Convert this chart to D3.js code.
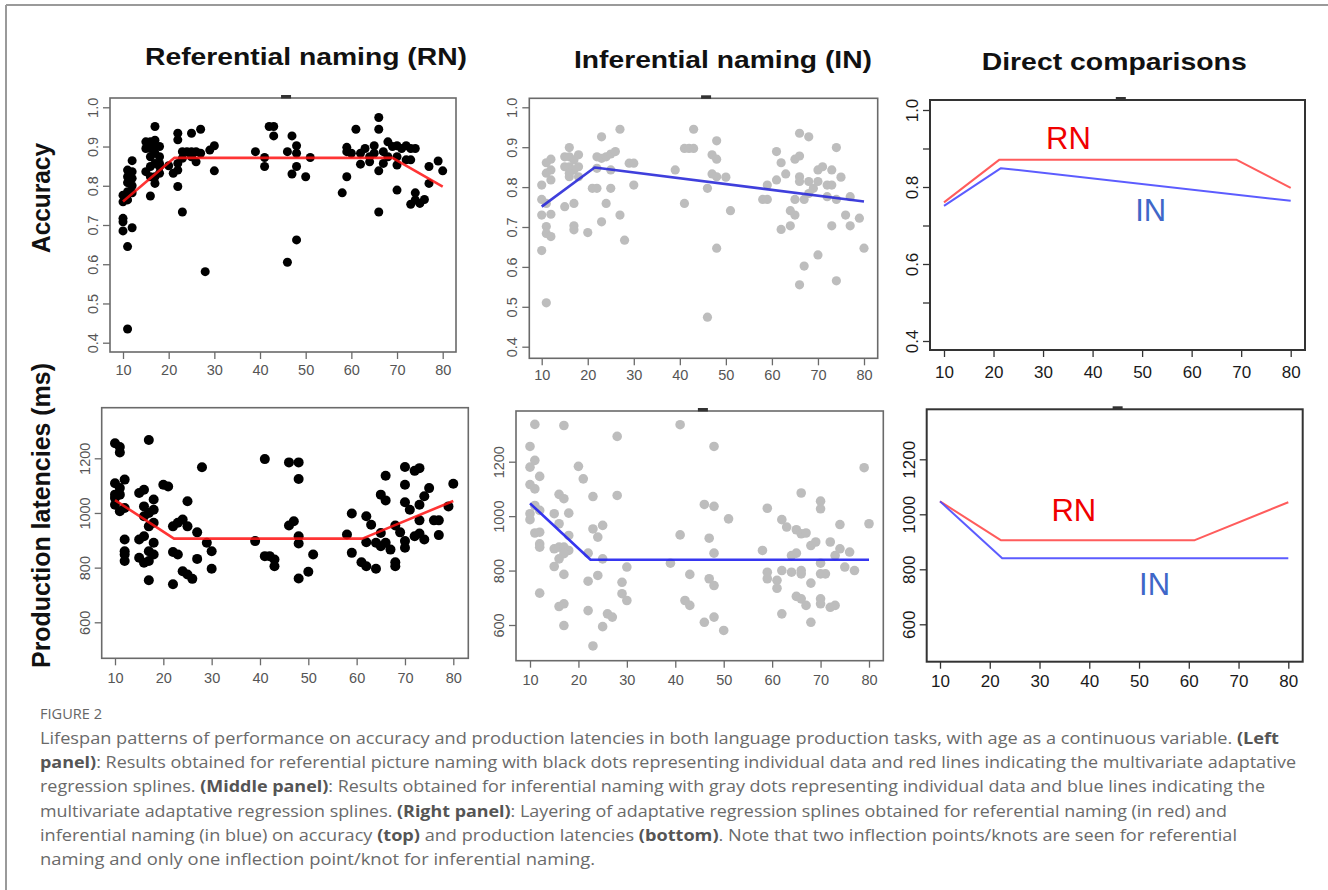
<!DOCTYPE html>
<html><head><meta charset="utf-8">
<script src="https://cdn.jsdelivr.net/npm/d3@7"></script>
<style>body{margin:0;background:#fff;overflow:hidden} svg{display:block}</style>
</head><body><svg id="c" width="1328" height="890"></svg>
<script>
// ---------------- data ----------------
const ageTicks = [10, 20, 30, 40, 50, 60, 70, 80];
const accTicks = [0.4, 0.5, 0.6, 0.7, 0.8, 0.9, 1.0];
const accTickLabelsCmp = [0.4, 0.6, 0.8, 1.0];
const latTicks = [600, 800, 1000, 1200];

const columnTitles = ["Referential naming (RN)", "Inferential naming (IN)", "Direct comparisons"];
const rowTitles = ["Accuracy", "Production latencies (ms)"];
const seriesNames = ["RN", "IN"];

const rnAccPoints = [[10,0.776],[10,0.759],[10,0.717],[10,0.708],[10,0.685],[11,0.645],[11,0.435],[12,0.693],[11,0.84],[11,0.823],[11,0.808],[12,0.864],[12,0.836],[12,0.819],[12,0.80],[11,0.785],[12,0.782],[11,0.764],
[16,0.912],[16,0.895],[15,0.895],[17,0.951],[16,0.774],[17,0.806],[15,0.836],[16,0.849],[16,0.874],[17,0.916],[17,0.883],[17,0.857],[18,0.9],[18,0.874],[18,0.849],[18,0.832],[17,0.823],[16,0.823],[15,0.912],[18,0.857],[17,0.9],
[20,0.851],[22,0.934],[22,0.917],[22,0.857],[22,0.84],[21,0.832],[22,0.798],[23,0.733],[23,0.887],[23,0.87],[24,0.887],[25,0.934],[25,0.887],[25,0.874],[26,0.861],[27,0.944],[27,0.883],[28,0.581],[29,0.891],[30,0.902],[30,0.838],[26,0.887],
[39,0.887],[41,0.872],[41,0.849],[42,0.951],[43,0.951],[43,0.927],[46,0.887],[46,0.605],[47,0.927],[47,0.83],[48,0.902],[48,0.883],[48,0.849],[48,0.662],[50,0.823],[51,0.872],
[58,0.782],[59,0.823],[59,0.898],[59,0.887],[61,0.944],[62,0.883],[62,0.855],[63,0.895],[64,0.874],[64,0.861],[65,0.902],[65,0.883],[66,0.974],[66,0.944],[66,0.838],[66,0.733],[67,0.857],[67,0.887],[68,0.912],[68,0.874],[69,0.9],[70,0.902],[70,0.853],[70,0.789],[70,0.874],[71,0.895],[72,0.902],[72,0.866],[73,0.895],[73,0.753],[73,0.866],[74,0.895],[74,0.782],[74,0.764],[75,0.755],[76,0.765],[77,0.849],[77,0.806],[79,0.863],[80,0.838],[60,0.883]];

const inAccPoints = [[10,0.805],[10,0.769],[10,0.73],[10,0.641],[11,0.51],[11,0.861],[11,0.835],[11,0.759],[11,0.701],[11,0.684],[12,0.87],[12,0.843],[12,0.818],[12,0.732],[12,0.676],
[15,0.751],[15,0.876],[15,0.851],[16,0.899],[16,0.876],[16,0.851],[16,0.826],[17,0.759],[17,0.703],[17,0.693],[17,0.868],[17,0.843],[18,0.881],[18,0.851],[18,0.826],[16,0.835],
[20,0.686],[21,0.797],[22,0.797],[22,0.876],[22,0.847],[23,0.926],[23,0.713],[23,0.872],[24,0.759],[24,0.876],[25,0.797],[25,0.843],[25,0.883],[26,0.889],[27,0.945],[27,0.73],[28,0.667],[29,0.86],[30,0.86],[30,0.805],
[39,0.843],[41,0.759],[41,0.897],[42,0.897],[43,0.945],[43,0.897],[46,0.797],[47,0.881],[48,0.87],[48,0.916],[47,0.833],[48,0.826],[48,0.647],[46,0.474],[50,0.825],[51,0.741],
[58,0.769],[59,0.805],[59,0.769],[61,0.889],[61,0.818],[62,0.694],[62,0.861],[63,0.833],[64,0.703],[64,0.741],[65,0.73],[65,0.769],[65,0.87],[66,0.555],[66,0.935],[66,0.878],[66,0.826],[66,0.814],[67,0.602],[67,0.769],[68,0.926],[68,0.814],[68,0.784],[69,0.797],[70,0.63],[70,0.814],[70,0.843],[71,0.851],[72,0.805],[73,0.843],[73,0.805],[73,0.703],[74,0.565],[74,0.899],[74,0.769],[75,0.825],[76,0.73],[77,0.703],[77,0.776],[79,0.722],[80,0.647],[72,0.776]];

const rnLatPoints = [[10,1255],[11,1241],[11,1221],[10,1109],[10,1067],[10,1030],[11,1091],[11,1067],[11,1006],[12,1122],[12,1018],[12,903],[12,860],[12,824],[12,848],[10,1055],
[15,1073],[15,903],[15,836],[16,1085],[16,1024],[16,988],[16,915],[16,818],[17,1267],[17,951],[17,860],[17,824],[17,754],[17,1000],[18,1049],[18,1012],[18,964],[18,891],[18,848],
[20,1103],[21,1097],[22,739],[22,951],[22,857],[23,848],[23,964],[24,976],[24,787],[25,1043],[25,951],[25,775],[26,759],[27,929],[27,832],[28,1167],[29,891],[30,860],[30,796],
[39,897],[41,1197],[41,842],[42,842],[43,805],[43,830],[46,1185],[46,954],[47,970],[48,1185],[48,1124],[48,915],[48,888],[48,760],[50,785],[51,848],
[58,921],[59,998],[59,854],[61,820],[62,805],[62,988],[62,893],[63,957],[64,796],[64,891],[65,1067],[65,878],[65,927],[66,1136],[66,1046],[66,891],[67,866],[68,820],[68,805],[68,954],[69,929],[70,1168],[70,1103],[70,1039],[70,897],[70,873],[71,1012],[72,1154],[72,915],[73,1164],[73,1030],[73,973],[73,925],[74,1061],[74,903],[75,1091],[76,973],[77,973],[77,919],[79,1024],[80,1107]];

const inLatPoints = [[10,1256],[10,1180],[10,1116],[10,987],[10,1009],[11,1337],[11,1205],[11,1100],[11,1039],[11,938],[12,1146],[12,1021],[12,941],[12,898],[12,886],[12,717],
[15,1009],[15,880],[15,815],[16,1080],[16,972],[16,886],[16,843],[16,668],[17,1333],[17,1064],[17,886],[17,786],[17,678],[17,598],[18,1011],[18,929],[18,874],[17,862],
[20,1183],[21,1137],[22,864],[22,761],[22,653],[23,1072],[23,953],[23,523],[24,923],[24,782],[25,966],[25,843],[25,594],[26,641],[27,629],[28,1293],[28,1076],[29,757],[29,715],[30,813],[30,690],
[39,827],[41,1336],[41,931],[42,690],[43,672],[43,786],[46,1043],[46,610],[47,919],[47,770],[48,1256],[48,1036],[48,864],[48,745],[48,629],[50,580],[51,990],
[58,874],[59,1029],[59,794],[59,770],[61,764],[61,735],[62,800],[62,987],[62,641],[63,960],[64,855],[64,794],[65,950],[65,864],[65,705],[66,1085],[66,935],[66,800],[66,788],[66,696],[67,938],[67,672],[68,892],[68,754],[68,610],[69,905],[70,1055],[70,1027],[70,827],[70,788],[70,696],[70,678],[71,788],[72,905],[72,665],[73,672],[73,855],[74,969],[74,880],[75,813],[76,868],[77,800],[79,1178],[80,972]];

// MARS spline knots (age, value)
const rnAccSpline = [[10,0.760],[21.2,0.871],[69,0.871],[80,0.798]];
const inAccSpline = [[10,0.751],[21.5,0.849],[80,0.764]];
const rnLatSpline = [[10,1047],[22.2,906],[61.2,906],[80,1044]];
const inLatSpline = [[10,1047],[22.5,840],[80,840]];

const markerAge = 45.7;

const captionLabel = "FIGURE 2";
const captionLines = [
  [["Lifespan patterns of performance on accuracy and production latencies in both language production tasks, with age as a continuous variable. ",0],["(Left",1]],
  [["panel)",1],[": Results obtained for referential picture naming with black dots representing individual data and red lines indicating the multivariate adaptative",0]],
  [["regression splines. ",0],["(Middle panel)",1],[": Results obtained for inferential naming with gray dots representing individual data and blue lines indicating the",0]],
  [["multivariate adaptative regression splines. ",0],["(Right panel)",1],[": Layering of adaptative regression splines obtained for referential naming (in red) and",0]],
  [["inferential naming (in blue) on accuracy ",0],["(top)",1],[" and production latencies ",0],["(bottom)",1],[". Note that two inflection points/knots are seen for referential",0]],
  [["naming and only one inflection point/knot for inferential naming.",0]]
];

// ---------------- layout ----------------
const svg = d3.select("#c");
const FONT = "'Liberation Sans', Arial, Helvetica, sans-serif";

// outer figure border (top + left)
svg.append("line").attr("x1",6).attr("y1",5).attr("x2",1328).attr("y2",5).attr("stroke","#9a9a9a").attr("stroke-width",2);
svg.append("line").attr("x1",6).attr("y1",5).attr("x2",6).attr("y2",890).attr("stroke","#9a9a9a").attr("stroke-width",2);

const panels = [
  {id:"TL", frame:[110,98,456,352], xr:[123,442.7], yd:[1.0,0.4], yr:[107.3,342.7], yTicks:accTicks, yLabels:accTicks, fmt:d3.format(".1f"), xlab:375, cmp:false, marker:true},
  {id:"TM", frame:[529.3,98.3,877.7,358.3], xr:[541.7,864], yd:[1.0,0.4], yr:[107.3,346.7], yTicks:accTicks, yLabels:accTicks, fmt:d3.format(".1f"), xlab:380, cmp:false, marker:true},
  {id:"TR", frame:[930,100,1305,350], xr:[944,1290.7], yd:[1.0,0.4], yr:[110,341], yTicks:accTicks, yLabels:accTickLabelsCmp, fmt:d3.format(".1f"), xlab:378, cmp:true, marker:true},
  {id:"BL", frame:[101.7,407.7,468.3,658.3], xr:[115,453.3], yd:[1200,600], yr:[458.3,622.3], yTicks:latTicks, yLabels:latTicks, fmt:d3.format("d"), xlab:683, cmp:false, marker:false},
  {id:"BM", frame:[516,411,883.3,660.7], xr:[530,869], yd:[1200,600], yr:[461.7,625], yTicks:latTicks, yLabels:latTicks, fmt:d3.format("d"), xlab:685, cmp:false, marker:true},
  {id:"BR", frame:[926.7,409.3,1302.7,661.7], xr:[940,1288.3], yd:[1200,600], yr:[459.3,624.3], yTicks:latTicks, yLabels:latTicks, fmt:d3.format("d"), xlab:687, cmp:true, marker:true}
];

function setup(p){
  const g = svg.append("g").attr("class","panel-"+p.id);
  const x = d3.scaleLinear().domain([10,80]).range(p.xr);
  const y = d3.scaleLinear().domain(p.yd).range(p.yr);
  const [fx0,fy0,fx1,fy1] = p.frame;
  const frameCol = p.cmp ? "#333" : "#6a6a6a";
  const labCol = p.cmp ? "#1a1a1a" : "#555";
  const fs = p.cmp ? 17 : 14.5;
  const xa = d3.axisBottom(x).tickValues(ageTicks).tickSize(7).tickFormat(d3.format("d"));
  const gx = g.append("g").attr("transform",`translate(0,${fy1})`).call(xa);
  gx.select(".domain").remove();
  gx.selectAll(".tick line").attr("stroke",frameCol).attr("stroke-width",1.3);
  gx.selectAll(".tick text").attr("y", p.xlab - fy1).attr("dy",0).attr("fill",labCol)
    .style("font-family",FONT).style("font-size",fs+"px");
  const ya = d3.axisLeft(y).tickValues(p.yTicks).tickSize(7).tickFormat(d => p.yLabels.some(v=>Math.abs(v-d)<1e-9) ? p.fmt(d) : "");
  const gy = g.append("g").attr("transform",`translate(${fx0},0)`).call(ya);
  gy.select(".domain").remove();
  gy.selectAll(".tick line").attr("stroke",frameCol).attr("stroke-width",1.3);
  gy.selectAll(".tick text").attr("x",null).attr("dy",0).attr("fill",labCol)
    .attr("transform","translate(-12,0) rotate(-90)").attr("text-anchor","middle")
    .style("font-family",FONT).style("font-size",fs+"px");
  g.append("rect").attr("x",fx0).attr("y",fy0).attr("width",fx1-fx0).attr("height",fy1-fy0)
    .attr("fill","none").attr("stroke",frameCol).attr("stroke-width",p.cmp?2:1.6);
  if (p.marker) {
    g.append("rect").attr("x",x(markerAge)-5).attr("y",fy0-3).attr("width",10).attr("height",3.5).attr("fill","#333");
  }
  return {g,x,y};
}

const P = {};
panels.forEach(p => P[p.id] = setup(p));

function dots(pan, data, color, r){
  pan.g.append("g").selectAll("circle").data(data).join("circle")
    .attr("cx", d => pan.x(d[0])).attr("cy", d => pan.y(d[1])).attr("r", r).attr("fill", color);
}
function spline(pan, data, color, w, op){
  const line = d3.line().x(d => pan.x(d[0])).y(d => pan.y(d[1]));
  pan.g.append("path").datum(data).attr("d", line).attr("fill","none")
    .attr("stroke", color).attr("stroke-width", w).attr("stroke-opacity", op).attr("stroke-linejoin","round");
}

dots(P.TL, rnAccPoints, "#000", 4.5);
spline(P.TL, rnAccSpline, "#ff1010", 2.6, 0.85);
dots(P.TM, inAccPoints, "#bdbdbd", 4.6);
spline(P.TM, inAccSpline, "#2a2ad8", 2.6, 0.9);
dots(P.BL, rnLatPoints, "#000", 5);
spline(P.BL, rnLatSpline, "#ff1010", 2.6, 0.85);
dots(P.BM, inLatPoints, "#bdbdbd", 4.8);
spline(P.BM, inLatSpline, "#2020ee", 2.6, 0.9);

spline(P.TR, rnAccSpline, "#ff4040", 2, 0.85);
spline(P.TR, inAccSpline, "#4a4aff", 2, 0.9);
spline(P.BR, rnLatSpline, "#ff4040", 2, 0.85);
spline(P.BR, inLatSpline, "#4a4aff", 2, 0.9);

function seriesLabel(pan, text, ax, ay, color){
  pan.g.append("text").attr("x", pan.x(ax)).attr("y", pan.y(ay)).text(text)
    .attr("fill", color).style("font-family",FONT).style("font-size","31px");
}
seriesLabel(P.TR, seriesNames[0], 30.6, 0.90, "#f00000");
seriesLabel(P.TR, seriesNames[1], 48.6, 0.711, "#3f67c8");
seriesLabel(P.BR, seriesNames[0], 32.4, 975, "#f00000");
seriesLabel(P.BR, seriesNames[1], 50.0, 706, "#3f67c8");

const titleSpec = [[145,65,322],[574,68,298],[981.7,70,265]];
columnTitles.forEach((t,i) => {
  const [x0,yb,len] = titleSpec[i];
  svg.append("text").attr("x",x0).attr("y",yb).text(t)
    .attr("textLength",len).attr("lengthAdjust","spacingAndGlyphs")
    .attr("fill","#111").style("font-family",FONT).style("font-weight","bold").style("font-size","24.5px");
});

const rowSpec = [[50,198,110],[50,515.5,305]];
rowTitles.forEach((t,i) => {
  const [xb,yc,len] = rowSpec[i];
  svg.append("text").attr("transform",`translate(${xb},${yc}) rotate(-90)`).attr("text-anchor","middle").text(t)
    .attr("textLength",len).attr("lengthAdjust","spacingAndGlyphs")
    .attr("fill","#111").style("font-family",FONT).style("font-weight","bold").style("font-size","25px");
});

// caption
const CAPFONT = "'Open Sans', 'Noto Sans', Lato, sans-serif";
svg.append("text").attr("x",40).attr("y",719).text(captionLabel)
  .attr("textLength",62).attr("lengthAdjust","spacingAndGlyphs")
  .attr("fill","#666").style("font-family",CAPFONT).style("font-size","14.5px");
const lineEnds = [1279,1296,1265,1227,1237,595];
captionLines.forEach((segs,i) => {
  const t = svg.append("text").attr("x",40).attr("y",744 + i*24.2)
    .style("font-family",CAPFONT).style("font-size","16.3px").attr("fill","#6a6a6a");
  segs.forEach(([s,b]) => {
    t.append("tspan").text(s).style("font-weight", b ? "bold" : "normal").attr("fill", b ? "#555" : "#6a6a6a");
  });
  t.attr("textLength", lineEnds[i]-40).attr("lengthAdjust","spacingAndGlyphs");
});
</script>
</body></html>
